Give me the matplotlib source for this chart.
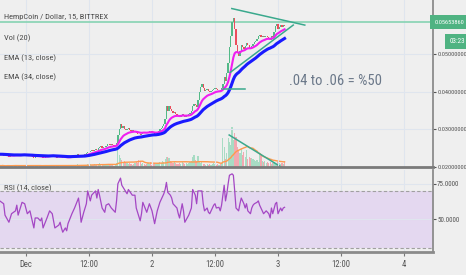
import numpy as np
import pandas as pd
import matplotlib
matplotlib.use("Agg")
import matplotlib.pyplot as plt
from matplotlib import font_manager as fm

# ---------------- fonts ----------------
COND = {'ultra-condensed': 0, 'extra-condensed': 1, 'condensed': 2, 'semi-condensed': 3}
cands = []
for f in fm.fontManager.ttflist:
    st = f.stretch if isinstance(f.stretch, str) else None
    nm = f.name
    if st in COND or 'Narrow' in nm or 'Condensed' in nm:
        if f.style == 'normal' and f.weight in (400, 'normal', 'regular', 'book'):
            cands.append((COND.get(st, 2), nm, st if st in COND else 'normal'))
pref = ['Liberation Sans Narrow', 'Roboto Condensed', 'Open Sans', 'DejaVu Sans', 'Noto Sans']
cands.sort(key=lambda c: (pref.index(c[1]) if c[1] in pref else 99, -c[0]))
if cands:
    FAMILY, STRETCH = cands[0][1], cands[0][2]
    NARROW = True
else:
    FAMILY, STRETCH = 'Liberation Sans', 'normal'
    NARROW = False
plt.rcParams['font.family'] = [FAMILY, 'DejaVu Sans']
plt.rcParams['font.stretch'] = STRETCH

# ---------------- data ----------------
# 15-minute candles, time in hours since Dec 1 00:00
candle_start = -5.0
candle_step = 0.25

closes = [
    0.0234, 0.0235, 0.0232, 0.0230, 0.0229, 0.0228, 0.0229, 0.0227,
    0.0229, 0.0230, 0.0231, 0.0232, 0.0234, 0.0231, 0.0230, 0.0231,
    0.0233, 0.0235, 0.0234, 0.0233, 0.0230, 0.0229, 0.0231, 0.0232,
    0.0229, 0.0226, 0.0225, 0.0227, 0.0228, 0.0229, 0.0228, 0.0227,
    0.0228, 0.0224, 0.0225, 0.0227, 0.0229, 0.0230, 0.0232, 0.0233,
    0.0232, 0.0230, 0.0226, 0.0225, 0.0226, 0.0227, 0.0228, 0.0227,
    0.0225, 0.0224, 0.0223, 0.0225, 0.0224, 0.0226, 0.0228, 0.0230,
    0.0229, 0.0230, 0.0232, 0.0234, 0.0231, 0.0229, 0.0227, 0.0230,
    0.0232, 0.0234, 0.0237, 0.0241, 0.0239, 0.0242, 0.0244, 0.0243,
    0.0246, 0.0248, 0.0246, 0.0250, 0.0253, 0.0255, 0.0251, 0.0252,
    0.0254, 0.0257, 0.0260, 0.0261, 0.0259, 0.0260, 0.0258, 0.0257,
    0.0258, 0.0264, 0.0285, 0.0300, 0.0315, 0.0305, 0.0310, 0.0302,
    0.0298, 0.0300, 0.0303, 0.0299, 0.0297, 0.0298, 0.0296, 0.0297,
    0.0291, 0.0289, 0.0287, 0.0286, 0.0289, 0.0294, 0.0293, 0.0291,
    0.0290, 0.0294, 0.0297, 0.0295, 0.0293, 0.0292, 0.0287, 0.0289,
    0.0293, 0.0296, 0.0300, 0.0304, 0.0308, 0.0315, 0.0328, 0.0362,
    0.0350, 0.0362, 0.0355, 0.0350, 0.0344, 0.0347, 0.0341, 0.0338,
    0.0336, 0.0333, 0.0338, 0.0342, 0.0339, 0.0334, 0.0336, 0.0338,
    0.0340, 0.0343, 0.0348, 0.0362, 0.0368, 0.0364, 0.0360, 0.0378,
    0.0400, 0.0412, 0.0420, 0.0410, 0.0403, 0.0405, 0.0407, 0.0402,
    0.0400, 0.0402, 0.0404, 0.0408, 0.0410, 0.0407, 0.0405, 0.0406,
    0.0403, 0.0410, 0.0422, 0.0440, 0.0428, 0.0450, 0.0478, 0.0520,
    0.0550, 0.0585, 0.0598, 0.0568, 0.0525, 0.0505, 0.0495, 0.0510,
    0.0525, 0.0520, 0.0515, 0.0522, 0.0530, 0.0524, 0.0518, 0.0515,
    0.0522, 0.0528, 0.0532, 0.0535, 0.0540, 0.0548, 0.0552, 0.0546,
    0.0550, 0.0545, 0.0548, 0.0550, 0.0547, 0.0543, 0.0538, 0.0550,
    0.0545, 0.0560, 0.0575, 0.0582, 0.0568, 0.0572, 0.0578, 0.0574,
    0.0578, 0.0576,
]

volumes = [
    1.5, 1, 2, 1, 0.8, 1.2, 2, 1,
    1, 1.5, 2, 1, 2.5, 1, 0.8, 1.2,
    2, 1.5, 1, 2, 1.2, 1, 1.5, 2,
    1.5, 2.5, 1, 1.2, 0.8, 1, 1.5, 1,
    1, 2, 1.2, 1, 1.5, 1.8, 2, 1.5,
    1.2, 1, 2, 1.5, 1, 0.8, 1.2, 1,
    1.5, 1, 2, 1.2, 1, 1.5, 2, 1.8,
    2, 1.5, 2.5, 3, 1.5, 1.2, 2, 1.5,
    2, 2.5, 1.5, 3, 2, 3.5, 2.5, 2,
    3, 2.5, 2, 3, 4, 3, 2, 2.5,
    2.5, 3, 3.5, 2, 2, 2.5, 2, 1.5,
    2, 4, 19, 12, 9, 7, 5, 6,
    5, 4, 3, 4, 3, 2.5, 3, 4,
    5, 4, 7, 6, 3, 4, 3, 2.5,
    3, 4, 3, 5, 2.5, 3, 4, 3,
    3, 4, 5, 4, 6, 5, 8, 10,
    10, 9, 6, 5, 4, 5, 4, 3,
    3, 4, 3, 5, 4, 3, 4, 3,
    4, 5, 6, 10, 12, 7, 6, 11,
    5, 4, 5, 3, 3, 2.5, 3, 2,
    3, 2.5, 3, 4, 3, 2.5, 3, 2,
    3, 4, 29, 20, 8, 14, 29, 25,
    22, 40, 27, 34, 30, 20, 17, 14,
    18, 12, 15, 10, 17, 8, 10, 9,
    9, 8, 7, 6, 7, 5, 14, 12,
    6, 5, 6, 4, 5, 4, 5, 3,
    4, 5, 4, 3, 5, 4, 3, 4,
    3, 5,
]

# RSI(14) readings (time in hours, value)
rsi_time = [-5.0, -4.25, -4.0, -3.25, -2.75, -2.0, -1.75, -1.5, -0.75, -0.25,
            0.25, 0.75, 1.5, 1.75, 2.25, 2.75, 3.0, 3.25, 4.0, 4.5,
            5.0, 5.5, 6.25, 6.5, 6.75, 7.0, 7.5, 7.75, 8.0, 8.75,
            9.25, 10.0, 10.25, 10.5, 11.0, 11.5, 11.75, 12.25, 12.5, 13.25,
            13.5, 13.75, 14.0, 14.5, 15.0, 15.25, 15.75, 16.25, 17.0, 17.25,
            17.5, 18.0, 18.25, 18.75, 19.25, 19.5, 20.25, 20.75, 21.0, 21.75,
            22.0, 22.25, 23.0, 23.5, 24.0, 24.5, 25.0, 25.5, 26.25, 26.5,
            26.75, 27.0, 27.5, 27.75, 28.0, 28.75, 29.0, 29.25, 29.75, 30.0,
            30.25, 31.0, 31.5, 31.75, 32.25, 32.5, 32.75, 33.5, 33.75, 34.0,
            34.5, 34.75, 35.0, 35.25, 35.75, 36.0, 36.25, 36.75, 37.0, 37.25,
            37.5, 37.75, 38.0, 38.25, 38.5, 38.75, 39.25, 39.5, 39.75, 40.0,
            40.5, 40.75, 41.0, 41.5, 41.75, 42.0, 42.25, 42.75, 43.0, 43.25,
            43.5, 44.0, 44.25, 44.5, 45.0, 45.25, 45.5, 45.75, 46.25, 46.5,
            46.75, 47.0, 47.5, 47.75, 48.0, 48.5, 48.75, 49.0, 49.25]
rsi_value = [63, 61, 53, 48, 54, 56, 60, 53, 62, 61,
             54, 56, 44, 51, 51, 49, 51, 44, 51, 56,
             54, 44, 46, 48, 44, 41, 44, 42, 47, 54,
             58, 65, 58, 48, 55, 61, 70, 63, 67, 70,
             65, 71, 67, 58, 55, 60, 61, 58, 55, 63,
             75, 79, 74, 71, 68, 71, 67, 67, 58, 49,
             54, 62, 55, 61, 56, 47, 56, 62, 68, 71,
             76, 69, 67, 65, 61, 58, 54, 51, 61, 56,
             48, 53, 58, 71, 67, 61, 70, 70, 61, 56,
             58, 55, 54, 56, 60, 61, 58, 58.5, 56, 60,
             67, 74, 63, 68, 75, 81, 82, 81, 70, 58,
             56, 61, 65, 61, 58, 61, 56, 54, 58, 60,
             61, 62, 63, 60, 56, 54, 55, 56, 54, 51,
             58, 54, 61, 62, 54, 58, 56, 58, 58.5]

price_ticks = [0.02, 0.03, 0.04, 0.05]
rsi_ticks = [50, 75]
x_ticks = [0, 12, 24, 36, 48, 60, 72]
x_labels = ['Dec', '12:00', '2', '12:00', '3', '12:00', '4']

hline_price = 0.0586
last_label = '0.05653860'
countdown = '03:23'
support_line = ([37.5, 41.7], [0.0408, 0.0408])
upper_trend = ([39.2, 53.1], [0.0622, 0.0578])
lower_trend = ([38.9, 50.9], [0.0452, 0.0578])
vol_trend = ([38.7, 48.5], [32, 0.3])
note_text = '.04 to .06 = %50'
note_pos = (59.0, 0.0430)

# ---------------- styling ----------------
BG = '#efefef'
GRID = '#dfe5ee'
UP = '#53b987'
DOWN = '#eb4d5c'
VUP = '#a8dcc4'
VDOWN = '#f2a9b1'
TEAL = '#3aa98d'
HLINE = '#86d3b2'
TXT = '#4a4a4a'
AXC = '#8c8c8c'

LBL = 4.6 if NARROW else 4.1     # axis price labels
LEG = 6.0 if NARROW else 5.3     # legend texts
NOTE = 10.5 if NARROW else 9.5
XL = 6.2 if NARROW else 5.6

W, H = 466, 275
fig = plt.figure(figsize=(W / 100, H / 100), dpi=100, facecolor=BG)

def rect(x0, y0, x1, y1):
    return [x0 / W, 1 - y1 / H, (x1 - x0) / W, (y1 - y0) / H]

XLIM = (-4.95, 77.52)
PYLIM = (0.02038, 0.06448)

axv = fig.add_axes(rect(0, 0, 433, 167))
ax = fig.add_axes(rect(0, 0, 433, 167), sharex=axv)
axr = fig.add_axes(rect(0, 170, 433, 252), sharex=axv)
for a in (axv, ax, axr):
    a.set_facecolor('none')
axv.set_zorder(1)
ax.set_zorder(2)
axr.set_zorder(2)

t = candle_start + candle_step * np.arange(len(closes))
close = np.array(closes)
open_ = np.r_[close[0], close[:-1]]
up = close >= open_
vol = np.array(volumes, dtype=float)

# grid
for a in (ax, axr):
    for xt in x_ticks:
        a.axvline(xt, color=GRID, lw=0.8, zorder=0)
for yt in price_ticks:
    ax.axhline(yt, color=GRID, lw=0.8, zorder=0)

# volume
axv.bar(t[up], vol[up], width=0.22, color=VUP, linewidth=0)
axv.bar(t[~up], vol[~up], width=0.22, color=VDOWN, linewidth=0)
vma = pd.Series(vol).rolling(20, min_periods=1).mean().values
axv.plot(t, vma, color='#ff9a4d', lw=1.0)
axv.plot(*vol_trend, color=TEAL, lw=1.1)
axv.set_ylim(0, 167)
axv.set_xlim(*XLIM)
axv.axis('off')

# candles
body_lo = np.minimum(open_, close)
body_h = np.maximum(np.abs(close - open_), 0.00006)
ax.bar(t[up], body_h[up], bottom=body_lo[up], width=0.24, color=UP, linewidth=0, zorder=3)
ax.bar(t[~up], body_h[~up], bottom=body_lo[~up], width=0.24, color=DOWN, linewidth=0, zorder=3)

def ema(x, n):
    a = 2.0 / (n + 1)
    out = np.empty_like(x)
    out[0] = x[0]
    for i in range(1, len(x)):
        out[i] = a * x[i] + (1 - a) * out[i - 1]
    return out

ax.plot(t, ema(close, 13), color='#f01ef0', lw=1.5, zorder=4)
ax.plot(t, ema(close, 34), color='#1a1aff', lw=2.2, zorder=4)

# drawings
ax.axhline(hline_price, color=HLINE, lw=1.2, zorder=2)
ax.plot(*upper_trend, color=TEAL, lw=1.1, zorder=5)
ax.plot(*lower_trend, color=TEAL, lw=1.1, zorder=5)
ax.plot(*support_line, color=TEAL, lw=1.1, zorder=5)
ax.text(*note_pos, note_text, ha='center', va='center', fontsize=NOTE,
        color='#6b7889', zorder=6)

ax.set_xlim(*XLIM)
ax.set_ylim(*PYLIM)
ax.yaxis.tick_right()
ax.set_yticks(price_ticks)
ax.set_yticklabels(['%.8f' % v for v in price_ticks])
ax.tick_params(axis='y', length=2.0, width=0.8, color='#555555', labelsize=LBL,
               labelcolor='#555555', pad=1.0)
ax.tick_params(axis='x', bottom=False, labelbottom=False)
for s in ('top', 'left'):
    ax.spines[s].set_visible(False)
ax.spines['right'].set_color(AXC)
ax.spines['right'].set_linewidth(1.3)
ax.spines['bottom'].set_color('#7a7a7a')
ax.spines['bottom'].set_linewidth(2.0)

# price labels on axis
fig.text(449.5 / W, 1 - 22 / H, last_label, ha='center', va='center',
         fontsize=LBL, color='white', zorder=10,
         bbox=dict(boxstyle='square,pad=0.7', fc='#4fb382', ec='none'))
fig.text(465 / W, 1 - 41.5 / H, countdown, ha='right', va='center', fontsize=LBL + 0.5,
         color='white', bbox=dict(boxstyle='square,pad=0.6', fc='#4fb382', ec='none'))

# RSI
axr.axhspan(30, 70, color='#e4d8f0', zorder=0, lw=0)
for yt in rsi_ticks:
    axr.axhline(yt, color=GRID, lw=0.8, zorder=0.5)
for lvl in (70, 30):
    axr.axhline(lvl, color='#a0a0a0', lw=0.8, ls=(0, (3, 2)), zorder=1)
axr.plot(rsi_time, rsi_value, color='#a447c4', lw=0.9, zorder=3)
axr.set_ylim(27.1, 84.7)
axr.set_xlim(*XLIM)
axr.yaxis.tick_right()
axr.set_yticks(rsi_ticks)
axr.set_yticklabels(['%.4f' % v for v in rsi_ticks])
axr.tick_params(axis='y', length=2.0, width=0.8, color='#555555', labelsize=LBL + 0.4,
                labelcolor='#555555', pad=1.0)
axr.set_xticks(x_ticks)
axr.set_xticklabels(x_labels)
axr.tick_params(axis='x', length=3, width=0.8, color='#777777', labelsize=XL,
                labelcolor='#555555', pad=3)
for s in ('top', 'left'):
    axr.spines[s].set_visible(False)
axr.spines['right'].set_color(AXC)
axr.spines['right'].set_linewidth(1.3)
axr.spines['bottom'].set_color('#8a8a8a')
axr.spines['bottom'].set_linewidth(2.0)

# legend texts
for txt, y in [('HempCoin / Dollar, 15, BITTREX', 17), ('Vol (20)', 38),
               ('EMA (13, close)', 58), ('EMA (34, close)', 77)]:
    fig.text(4 / W, 1 - y / H, txt, ha='left', va='center', fontsize=LEG, color=TXT, zorder=20)
fig.text(4 / W, 1 - 188 / H, 'RSI (14, close)', ha='left', va='center', fontsize=LEG,
         color=TXT, zorder=20)

fig.savefig('out.png', dpi=100, facecolor=BG)
